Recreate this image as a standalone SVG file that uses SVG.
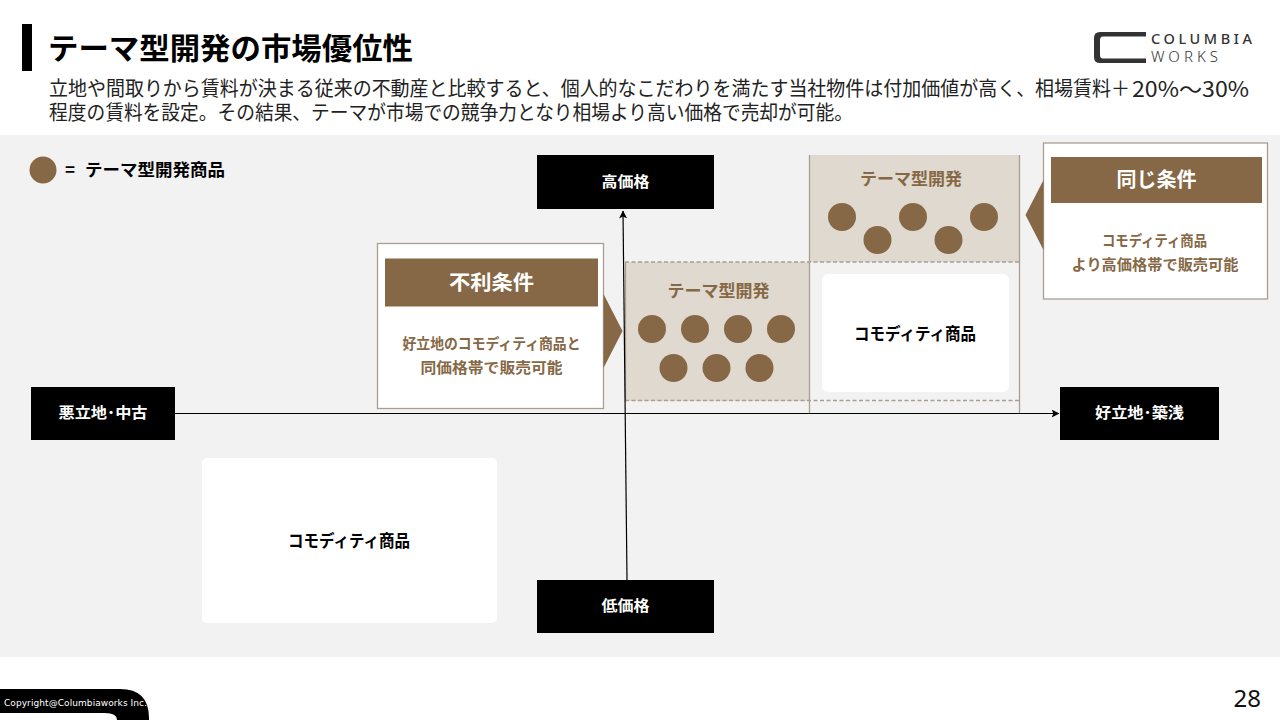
<svg xmlns="http://www.w3.org/2000/svg" width="1280" height="720" viewBox="0 0 1280 720">
<style>
text{font-family:"Noto Sans CJK JP","Noto Sans",sans-serif}
.b{font-weight:700}
.m{text-anchor:middle}
.w{fill:#fff}
.k{fill:#000}
.br{fill:#866846}
.dot{fill:#866846}
.pan{fill:#dfd9cf}
.edge{stroke:#a89f92;stroke-width:1.3;fill:none}
.dash{stroke:#a89f92;stroke-width:1.4;stroke-dasharray:4 2.5;fill:none}
.ax{stroke:#000;stroke-width:1.2;fill:none;marker-end:url(#arr)}
.box{fill:#fff;stroke:#a89f92;stroke-width:1.3}
</style>
<defs>
<marker id="arr" viewBox="0 0 8 8" refX="7.5" refY="4" markerWidth="8" markerHeight="8" orient="auto" markerUnits="userSpaceOnUse"><path d="M0 0L8 4L0 8L2 4Z" fill="#000"/></marker>
</defs>
<rect width="1280" height="720" fill="#fff"/>
<rect y="135" width="1280" height="522" fill="#f2f2f2"/>
<g id="header">
<rect x="22" y="24" width="10" height="47" fill="#000"/>
<text x="48" y="59" font-size="30" class="b k" textLength="365" lengthAdjust="spacingAndGlyphs">テーマ型開発の市場優位性</text>
<text x="49" y="96" font-size="20" fill="#222" textLength="1081" lengthAdjust="spacingAndGlyphs">立地や間取りから賃料が決まる従来の不動産と比較すると、個人的なこだわりを満たす当社物件は付加価値が高く、相場賃料＋</text>
<text x="1132" y="97" font-size="21" fill="#222" textLength="117" lengthAdjust="spacingAndGlyphs">20%～30%</text>
<text x="49" y="120" font-size="20" fill="#222" textLength="804" lengthAdjust="spacingAndGlyphs">程度の賃料を設定。その結果、テーマが市場での競争力となり相場より高い価格で売却が可能。</text>
</g>
<g id="logo">
<path d="M1146 32H1100Q1094 32 1094 38V57Q1094 63 1100 63H1146V58.500H1103Q1100 58.500 1100 55V40Q1100 36.500 1103 36.500H1146Z" fill="#333"/>
<text x="1151" y="44" font-size="14.500" fill="#333" font-weight="500" textLength="101" style="font-family:'Noto Sans',sans-serif">COLUMBIA</text>
<text x="1151" y="62" font-size="15" fill="#333" font-weight="300" textLength="67" style="font-family:'Noto Sans',sans-serif">WORKS</text>
</g>
<g id="legend">
<circle cx="43" cy="170" r="13.500" class="dot"/>
<text x="65" y="176" font-size="17" class="b k">=</text>
<text x="85" y="176" font-size="17" class="b k" textLength="140" lengthAdjust="spacingAndGlyphs">テーマ型開発商品</text>
</g>
<g id="panel-left">
<rect x="625" y="262" width="185" height="139" class="pan"/>
<text x="718.500" y="297" font-size="17" class="b m br" textLength="102" lengthAdjust="spacingAndGlyphs">テーマ型開発</text>
<circle cx="652" cy="329" r="14" class="dot"/><circle cx="695" cy="329" r="14" class="dot"/><circle cx="738" cy="329" r="14" class="dot"/><circle cx="781" cy="329" r="14" class="dot"/>
<circle cx="673.500" cy="368" r="14" class="dot"/><circle cx="716.500" cy="368" r="14" class="dot"/><circle cx="759.500" cy="368" r="14" class="dot"/>
</g>
<g id="panel-right">
<rect x="809" y="155" width="211" height="107" class="pan"/>
<text x="911" y="185" font-size="17" class="b m br" textLength="102" lengthAdjust="spacingAndGlyphs">テーマ型開発</text>
<circle cx="842" cy="217" r="14" class="dot"/><circle cx="913" cy="217" r="14" class="dot"/><circle cx="984" cy="217" r="14" class="dot"/>
<circle cx="877.500" cy="240" r="14" class="dot"/><circle cx="948.500" cy="240" r="14" class="dot"/>
</g>
<g id="guides">
<path class="edge" d="M809.500 155V413M1019.500 155V413M625.500 262V401"/>
<path class="dash" d="M625 262H1020M625 400.500H1020"/>
</g>
<g id="commodity-high">
<rect x="822" y="274" width="187" height="118" rx="6" fill="#fff"/>
<text x="915" y="340" font-size="17" class="b m k" textLength="122" lengthAdjust="spacingAndGlyphs">コモディティ商品</text>
</g>
<g id="commodity-low">
<rect x="202" y="458" width="295" height="165" rx="5" fill="#fff"/>
<text x="349" y="547" font-size="17" class="b m k" textLength="122" lengthAdjust="spacingAndGlyphs">コモディティ商品</text>
</g>
<g id="connectors">
<path class="ax" d="M175 413.500H1059"/>
<path class="ax" d="M627 580L623 211"/>
</g>
<g id="node-high">
<rect x="537" y="155" width="177" height="54" fill="#000"/>
<text x="625.500" y="187" font-size="15" class="b m w" textLength="48" lengthAdjust="spacingAndGlyphs">高価格</text>
</g>
<g id="node-low">
<rect x="537" y="580" width="177" height="53" fill="#000"/>
<text x="625.500" y="611" font-size="15" class="b m w" textLength="48" lengthAdjust="spacingAndGlyphs">低価格</text>
</g>
<g id="node-left">
<rect x="31" y="387" width="144" height="53" fill="#000"/>
<text x="103" y="418" font-size="15" class="b m w" textLength="89" lengthAdjust="spacingAndGlyphs">悪立地･中古</text>
</g>
<g id="node-right">
<rect x="1060" y="387" width="159" height="53" fill="#000"/>
<text x="1139.500" y="418" font-size="15" class="b m w" textLength="89" lengthAdjust="spacingAndGlyphs">好立地･築浅</text>
</g>
<g id="callout-left">
<rect x="377.500" y="243.500" width="226" height="165" class="box"/>
<rect x="385" y="258.500" width="213" height="48" class="br"/>
<path d="M603.500 294L622.500 331L603.500 368Z" class="br"/>
<text x="491.500" y="290" font-size="20" class="b m w" textLength="85" lengthAdjust="spacingAndGlyphs">不利条件</text>
<text x="491.500" y="349" font-size="15" class="b m br" textLength="178" lengthAdjust="spacingAndGlyphs">好立地のコモディティ商品と</text>
<text x="491.500" y="373" font-size="15" class="b m br" textLength="142" lengthAdjust="spacingAndGlyphs">同価格帯で販売可能</text>
</g>
<g id="callout-right">
<rect x="1043.500" y="143" width="224" height="156" class="box"/>
<rect x="1051" y="157" width="211" height="46" class="br"/>
<path d="M1043.500 180L1025.500 215L1043.500 250Z" class="br"/>
<text x="1156.500" y="187" font-size="20" class="b m w" textLength="80" lengthAdjust="spacingAndGlyphs">同じ条件</text>
<text x="1154.500" y="246" font-size="15" class="b m br" textLength="105" lengthAdjust="spacingAndGlyphs">コモディティ商品</text>
<text x="1155" y="269.500" font-size="15" class="b m br" textLength="167" lengthAdjust="spacingAndGlyphs">より高価格帯で販売可能</text>
</g>
<g id="footer">
<path d="M0 689H120Q149 689 149 718V720H117Q117 713 105 713H0Z" fill="#000"/>
<text x="4" y="706" font-size="9" fill="#fff" textLength="143" style="font-family:'DejaVu Sans',sans-serif">Copyright@Columbiaworks Inc.</text>
<text x="1261" y="707" font-size="24" fill="#111" text-anchor="end" style="font-family:'Noto Sans',sans-serif">28</text>
</g>
</svg>
